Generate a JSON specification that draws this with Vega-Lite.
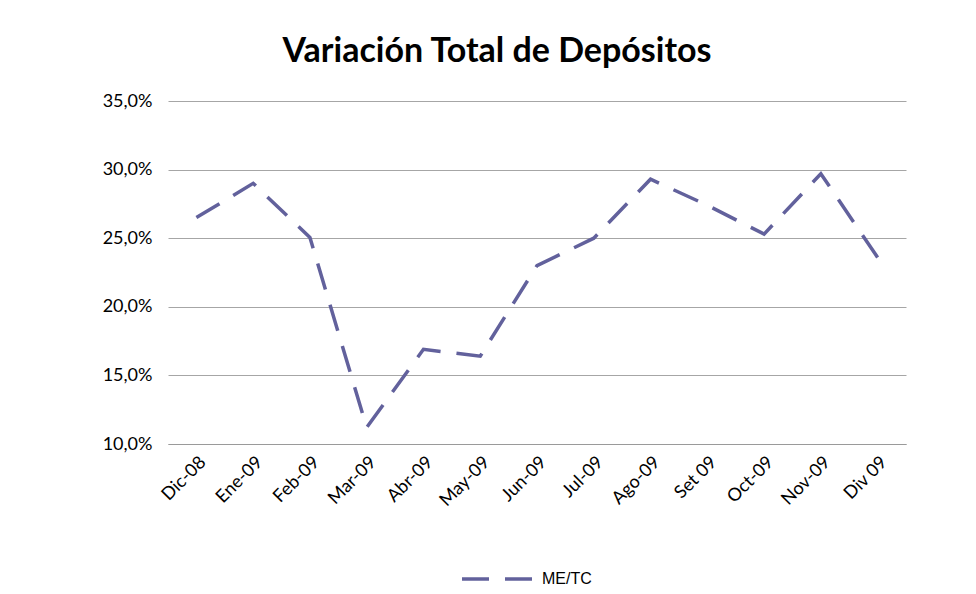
{
  "$schema": "https://vega.github.io/schema/vega-lite/v6.json",
  "width": 738,
  "height": 343,
  "autosize": {"type": "none"},
  "padding": {"left": 168, "top": 101, "right": 70, "bottom": 150},
  "background": "white",
  "config": {
    "view": {"stroke": null},
    "locale": {"number": {"decimal": ",", "thousands": ".", "grouping": [3], "currency": ["", " €"]}},
    "font": "Lato"
  },
  "title": {
    "text": "Variación Total de Depósitos",
    "font": "Lato",
    "fontSize": 34,
    "fontWeight": "bold",
    "color": "#000000",
    "anchor": "middle",
    "dx": -40,
    "offset": 23
  },
  "data": {
    "values": [
      {"mes": "Dic-08", "serie": "ME/TC", "valor": 0.265},
      {"mes": "Ene-09", "serie": "ME/TC", "valor": 0.290},
      {"mes": "Feb-09", "serie": "ME/TC", "valor": 0.2505},
      {"mes": "Mar-09", "serie": "ME/TC", "valor": 0.112},
      {"mes": "Abr-09", "serie": "ME/TC", "valor": 0.169},
      {"mes": "May-09", "serie": "ME/TC", "valor": 0.164},
      {"mes": "Jun-09", "serie": "ME/TC", "valor": 0.230},
      {"mes": "Jul-09", "serie": "ME/TC", "valor": 0.250},
      {"mes": "Ago-09", "serie": "ME/TC", "valor": 0.293},
      {"mes": "Set 09", "serie": "ME/TC", "valor": 0.274},
      {"mes": "Oct-09", "serie": "ME/TC", "valor": 0.253},
      {"mes": "Nov-09", "serie": "ME/TC", "valor": 0.297},
      {"mes": "Div 09", "serie": "ME/TC", "valor": 0.236}
    ]
  },
  "mark": {"type": "line", "strokeWidth": 3.5, "strokeDash": [27, 16]},
  "encoding": {
    "x": {
      "field": "mes",
      "type": "ordinal",
      "sort": null,
      "title": null,
      "axis": {
        "labelAngle": -45,
        "labelFont": "Lato",
        "labelFontSize": 18,
        "labelColor": "#000000",
        "ticks": false,
        "domain": true,
        "domainColor": "#9a9a9a",
        "labelPadding": 9,
        "grid": false
      }
    },
    "y": {
      "field": "valor",
      "type": "quantitative",
      "title": null,
      "scale": {"domain": [0.1, 0.35], "nice": false, "zero": false},
      "axis": {
        "values": [0.1, 0.15, 0.2, 0.25, 0.3, 0.35],
        "format": ".1%",
        "labelFont": "Lato",
        "labelFontSize": 18,
        "labelColor": "#000000",
        "ticks": false,
        "domain": false,
        "grid": true,
        "gridColor": "#a6a6a6",
        "gridWidth": 1,
        "labelPadding": 16
      }
    },
    "color": {
      "field": "serie",
      "type": "nominal",
      "scale": {"domain": ["ME/TC"], "range": ["#62619c"]},
      "legend": {
        "title": null,
        "orient": "none",
        "legendX": 292,
        "legendY": 441,
        "symbolType": "stroke",
        "symbolSize": 4900,
        "symbolStrokeWidth": 3.5,
        "symbolDash": [27, 16],
        "labelFont": "Liberation Sans",
        "labelFontSize": 16,
        "labelColor": "#000000",
        "labelOffset": 8
      }
    }
  }
}
